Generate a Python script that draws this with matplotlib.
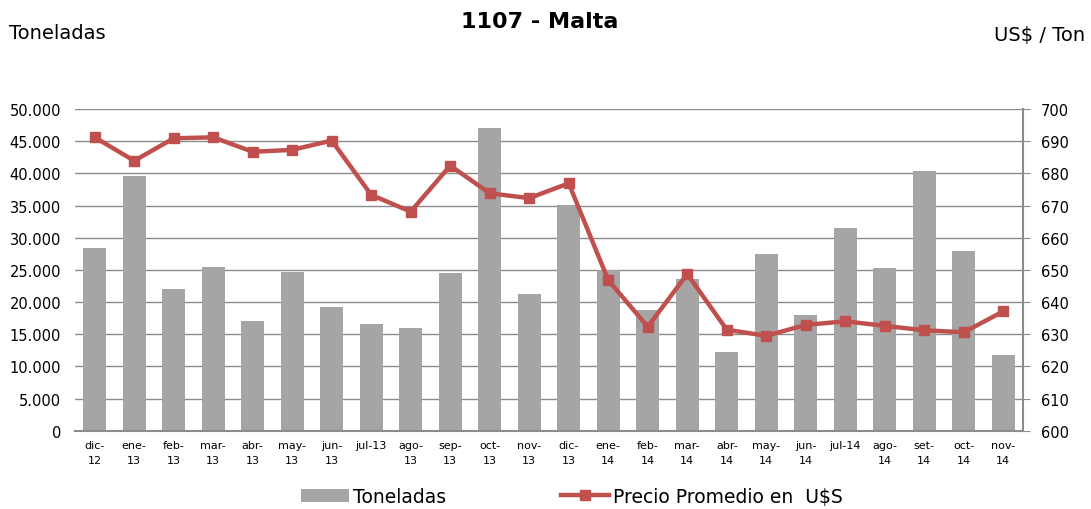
import matplotlib.pyplot as plt
from matplotlib.ticker import FuncFormatter
import numpy as np

months = ['dic-\n12', 'ene-\n13', 'feb-\n13', 'mar-\n13', 'abr-\n13', 'may-\n13',
          'jun-\n13', 'jul-13', 'ago-\n13', 'sep-\n13', 'oct-\n13', 'nov-\n13',
          'dic-\n13', 'ene-\n14', 'feb-\n14', 'mar-\n14', 'abr-\n14', 'may-\n14',
          'jun-\n14', 'jul-14', 'ago-\n14', 'set-\n14', 'oct-\n14', 'nov-\n14']
toneladas = [28400, 39600, 22100, 25500, 17050, 24700, 19200, 16600, 15900, 24500,
             47000, 21300, 35100, 25000, 18800, 23600, 12200, 27500, 18000, 31500,
             25300, 40400, 28000, 11800]
precio = [691.2, 683.9, 690.9, 691.2, 686.7, 687.3, 690.2, 673.3, 668.1, 682.4,
          673.8, 672.3, 676.9, 646.8, 632.3, 648.7, 631.4, 629.5, 632.9, 634.0,
          632.6, 631.2, 630.6, 637.1]

plt.rcParams['font.family'] = 'DejaVu Sans'
fig = plt.figure(figsize=(10.91, 5.10), dpi=100)
ax = fig.add_axes([0.0687, 0.1535, 0.869, 0.6308])
x = np.arange(len(months))

bars = ax.bar(x, toneladas, width=0.58, color='#A5A5A5', zorder=2, label='Toneladas')
ax.set_xlim(-0.5, len(months) - 0.5)
ax.set_ylim(0, 50000)
ax.set_yticks(np.arange(0, 50001, 5000))
ax.yaxis.set_major_formatter(FuncFormatter(lambda v, p: f'{int(v):,}'.replace(',', '.')))
ax.grid(axis='y', color='#8C8C8C', linewidth=1.0, zorder=0)
ax.set_axisbelow(True)
ax.set_xticks(x)
ax.set_xticklabels(months, fontsize=8, linespacing=1.55)
ax.tick_params(axis='x', length=0, pad=7)
ax.tick_params(axis='y', length=0, labelsize=10.5, pad=10)
for s in ['top', 'left', 'right']:
    ax.spines[s].set_visible(False)
ax.spines['bottom'].set_color('#8C8C8C')
ax.spines['bottom'].set_linewidth(1.5)

ax2 = ax.twinx()
line, = ax2.plot(x, precio, color='#C0504D', linewidth=3.2, marker='s', markersize=6.5,
                 label='Precio Promedio en  U$S', zorder=3)
ax2.set_ylim(600, 700)
ax2.set_yticks(np.arange(600, 701, 10))
ax2.tick_params(axis='y', direction='out', length=5, color='#8C8C8C', labelsize=10.5, pad=8)
for s in ['top', 'left', 'bottom']:
    ax2.spines[s].set_visible(False)
ax2.spines['right'].set_color('#8C8C8C')
ax2.spines['right'].set_linewidth(1.5)

fig.text(0.495, 0.957, '1107 - Malta', ha='center', va='center', fontsize=16, fontweight='bold')
fig.text(0.008, 0.935, 'Toneladas', ha='left', va='center', fontsize=14)
fig.text(0.995, 0.93, 'US$ / Ton', ha='right', va='center', fontsize=14)

fig.legend([bars, line], ['Toneladas', 'Precio Promedio en  U$S'], loc='center',
           bbox_to_anchor=(0.524, 0.025), ncol=2, frameon=False, fontsize=13.5,
           columnspacing=6.1, handlelength=2.6, handletextpad=0.2)

fig.savefig('out.png', dpi=100)
